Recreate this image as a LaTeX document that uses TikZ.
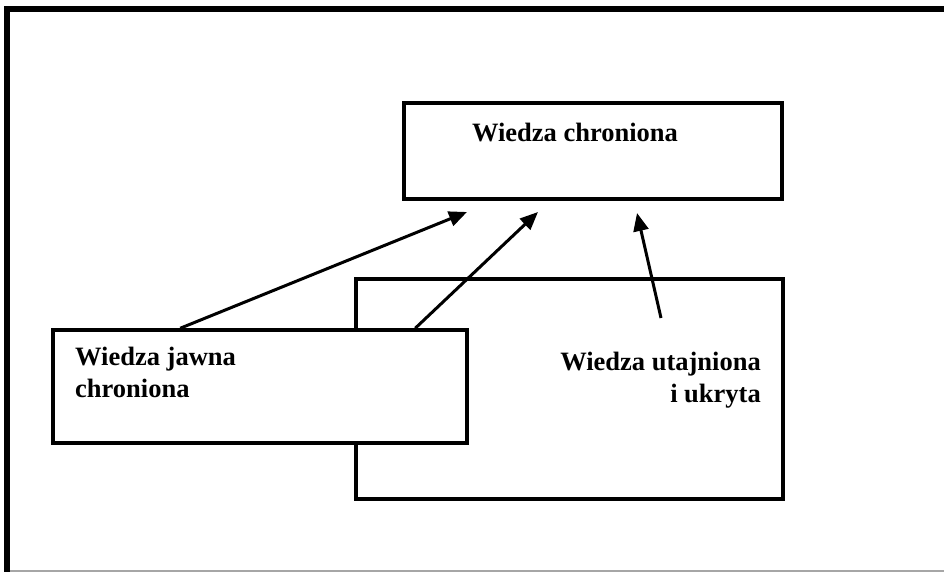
\documentclass[tikz,border=0pt]{standalone}
\usepackage{fontspec}
\setmainfont{Liberation Serif}
\usetikzlibrary{arrows.meta}

\tikzset{
  box/.style={draw=black, line width=3.5pt, fill=white, rectangle, inner sep=0pt},
  label/.style={font=\bfseries\fontsize{26.5}{32}\selectfont, inner sep=0pt},
  link/.style={line width=3pt, -{Triangle[length=18pt,width=15pt]}}
}

\begin{document}
\begin{tikzpicture}[x=1pt,y=-1pt]
\useasboundingbox (0,0) rectangle (944,572);

% frame
\draw [line width=6pt] (7,572) -- (7,9) -- (944,9);
\draw [gray!70, line width=1.5pt] (10,571) -- (944,571);

\node [box, minimum width=427pt, minimum height=220pt] (hidden) at (569.5,389) {};
\node [box, minimum width=378pt, minimum height=96pt] (protected) at (593,151) {};
\node [box, minimum width=414pt, minimum height=113pt] (open) at (260,386.5) {};

\node [label, anchor=base] (protectedtext) at (575,142) {Wiedza chroniona};
\node [label, anchor=north west, align=left] (opentext) at (75,347) {Wiedza jawna\\chroniona};
\node [label, anchor=north east, align=right] (hiddentext) at (761,352) {Wiedza utajniona\\i ukryta};

\coordinate (a1) at (467,212);
\coordinate (a2) at (538,212);
\coordinate (a3) at (637,213);
\coordinate (s3) at (661,318);

\draw [link] ([xshift=129pt]open.north west) -- (a1);
\draw [link] ([xshift=364pt]open.north west) -- (a2);
\draw [link] (s3) -- (a3);
\end{tikzpicture}
\end{document}
